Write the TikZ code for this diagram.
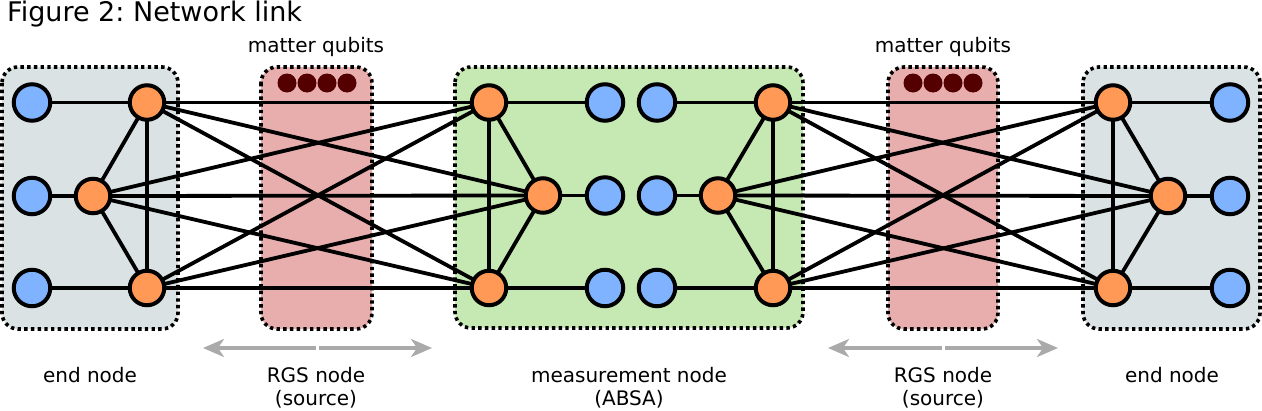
\documentclass[tikz,border=0pt]{standalone}
\usepackage{fontspec}
\setmainfont{DejaVu Sans}
\frenchspacing
\usetikzlibrary{arrows.meta,backgrounds}
\definecolor{endfill}{HTML}{DAE2E4}
\definecolor{rgsfill}{HTML}{E8AEAE}
\definecolor{absafill}{HTML}{C6E9B3}
\definecolor{orq}{HTML}{FF9955}
\definecolor{blq}{HTML}{80B3FF}
\definecolor{mq}{HTML}{550000}
\definecolor{arrgray}{HTML}{AAAAAA}
\tikzset{
  boxframe/.style={draw=black, line width=3.6pt, dash pattern=on 3.4pt off 3.3pt, rounded corners=16pt},
  oq/.style={circle, draw=black, line width=4pt, fill=orq, minimum size=34.5pt, inner sep=0pt},
  bq/.style={circle, draw=black, line width=4pt, fill=blq, minimum size=36.5pt, inner sep=0pt},
  mqd/.style={circle, fill=mq, minimum size=19pt, inner sep=0pt},
  link/.style={draw=black, line width=3.8pt},
  lbl/.style={font=\fontsize{20}{23}\selectfont, align=center, inner sep=0pt},
  garr/.style={draw=arrgray, line width=3.2pt, -{Stealth[length=21pt,width=18pt,inset=6pt]}}
}
\begin{document}
\begin{tikzpicture}[x=1pt,y=-1pt]
\useasboundingbox (0,0) rectangle (1262,410);
% boxes
\begin{pgfonlayer}{background}
\path[boxframe, fill=endfill] (2,67) rectangle (178,329);
\path[boxframe, fill=rgsfill] (261,67) rectangle (372,329);
\path[boxframe, fill=absafill] (455,67) rectangle (803,328);
\path[boxframe, fill=rgsfill] (888,67) rectangle (998,329);
\path[boxframe, fill=endfill] (1083,67) rectangle (1260,329);
\end{pgfonlayer}
% matter qubits
\foreach \i/\x in {1/287,2/307,3/327,4/347} \node[mqd] (ml\i) at (\x,83) {};
\foreach \i/\x in {1/913,2/933,3/953,4/973} \node[mqd] (mr\i) at (\x,83) {};
% left end node
\node[bq] (lb1) at (32,102.5) {};
\node[bq] (lb2) at (32,196) {};
\node[bq] (lb3) at (32,288) {};
\node[oq] (lo1) at (147,102.5) {};
\node[oq] (lo2) at (93,196) {};
\node[oq] (lo3) at (147,288) {};
% measurement node
\node[oq] (al1) at (489,102.5) {};
\node[oq] (al2) at (543,195.5) {};
\node[oq] (al3) at (489,288) {};
\node[bq] (ab1) at (605,102.5) {};
\node[bq] (ab2) at (605,195.5) {};
\node[bq] (ab3) at (605,288) {};
\node[bq] (ac1) at (657,102.5) {};
\node[bq] (ac2) at (657,195.5) {};
\node[bq] (ac3) at (657,288) {};
\node[oq] (ar1) at (773,102.5) {};
\node[oq] (ar2) at (718,195.5) {};
\node[oq] (ar3) at (773,288) {};
% right end node
\node[oq] (ro1) at (1113,102.5) {};
\node[oq] (ro2) at (1168,196) {};
\node[oq] (ro3) at (1113,288) {};
\node[bq] (rb1) at (1230,102.5) {};
\node[bq] (rb2) at (1230,196) {};
\node[bq] (rb3) at (1230,288) {};
% links (behind nodes)
\begin{pgfonlayer}{background}
\foreach \i in {1,2,3} {
  \draw[link] (lb\i.center) -- (lo\i.center);
  \draw[link] (al\i.center) -- (ab\i.center);
  \draw[link] (ac\i.center) -- (ar\i.center);
  \draw[link] (ro\i.center) -- (rb\i.center);
  \foreach \j in {1,2,3} {
    \draw[link] (lo\i.center) -- (al\j.center);
    \draw[link] (ar\i.center) -- (ro\j.center);
  }
}
\foreach \p in {lo,al,ar,ro} {
  \draw[link] (\p1.center) -- (\p2.center) -- (\p3.center) -- cycle;
}
\end{pgfonlayer}
% titles and labels
\node[anchor=base west, inner sep=0pt, font=\fontsize{27}{30}\selectfont] (title) at (7,21) {Figure 2: Network link};
\node[lbl, anchor=base] (mql) at (316,52) {matter qubits};
\node[lbl, anchor=base] (mqr) at (943,52) {matter qubits};
\node[lbl, anchor=base] (endl) at (90,382) {end node};
\node[lbl, anchor=base] (rgsl) at (316,405) {RGS node\\(source)};
\node[lbl, anchor=base] (meas) at (629,405) {measurement node\\(ABSA)};
\node[lbl, anchor=base] (rgsr) at (943,405) {RGS node\\(source)};
\node[lbl, anchor=base] (endr) at (1172,382) {end node};
% arrows
\coordinate (la0) at (316,348); \coordinate (la1) at (203,348);
\coordinate (la2) at (319,348); \coordinate (la3) at (432,348);
\coordinate (ra0) at (942,348); \coordinate (ra1) at (828,348);
\coordinate (ra2) at (945,348); \coordinate (ra3) at (1058,348);
\draw[garr] (la0) -- (la1);
\draw[garr] (la2) -- (la3);
\draw[garr] (ra0) -- (ra1);
\draw[garr] (ra2) -- (ra3);
\end{tikzpicture}
\end{document}
